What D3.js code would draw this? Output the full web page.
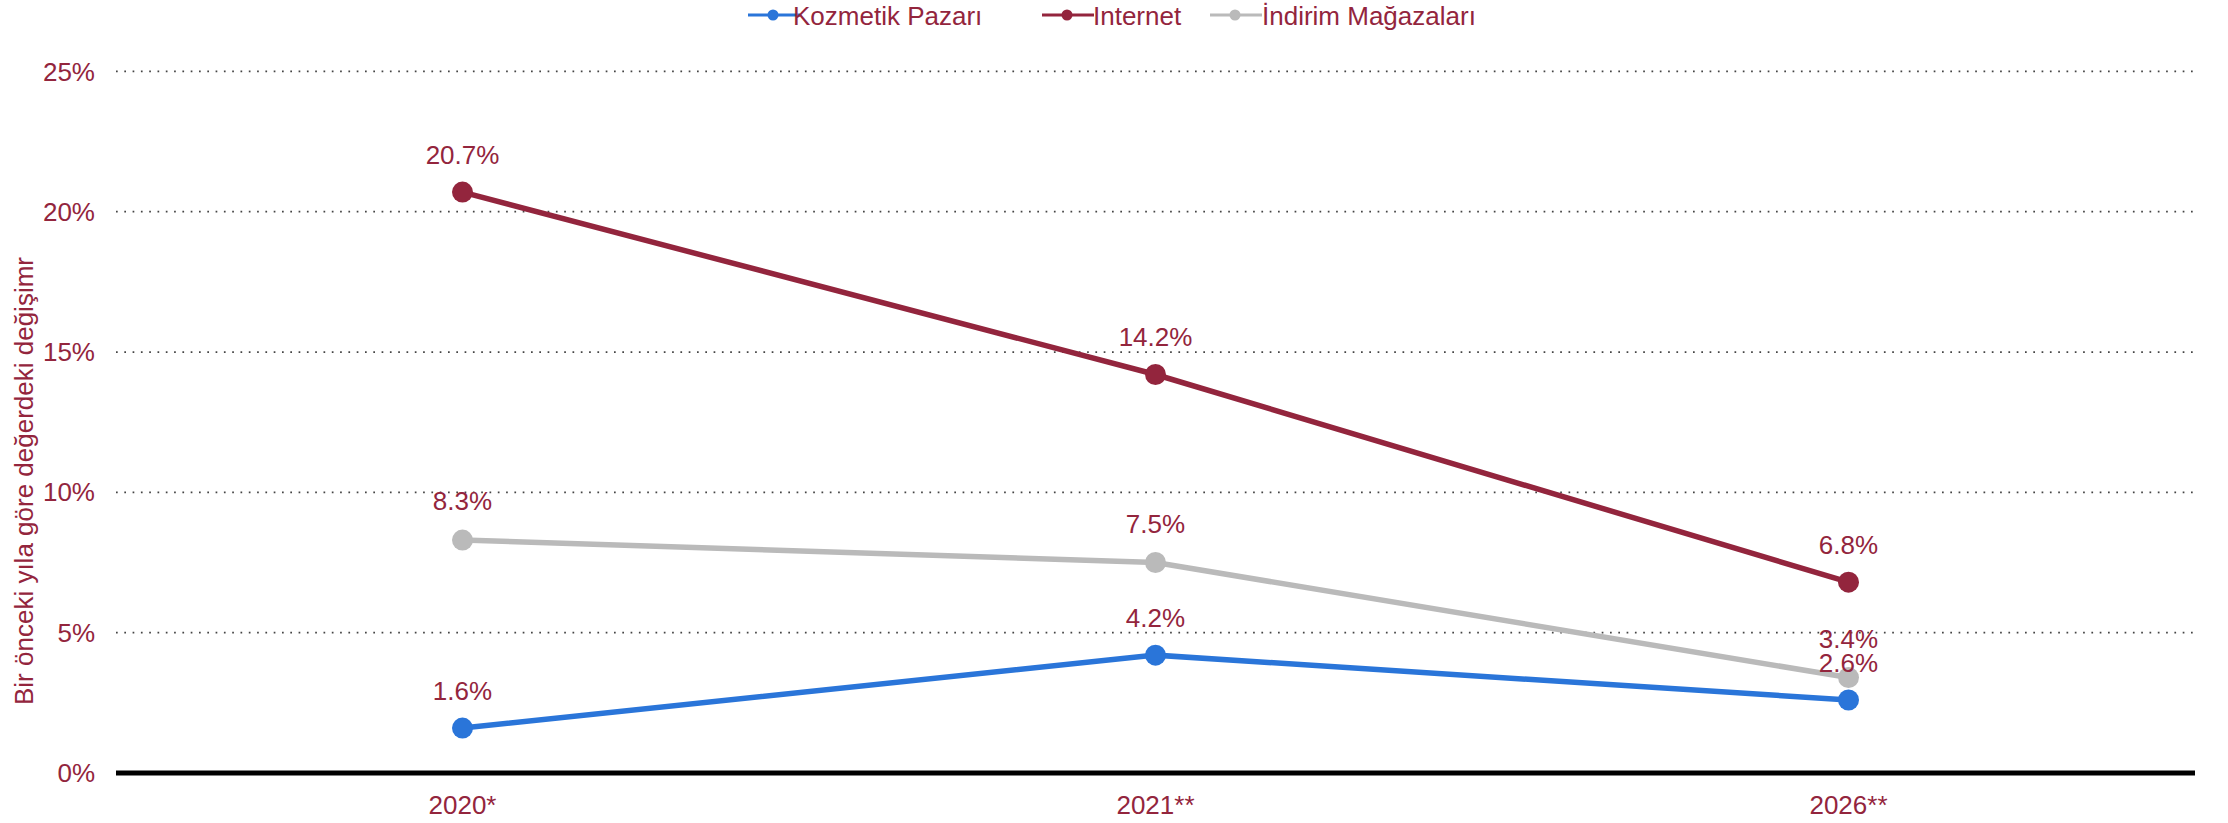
<!DOCTYPE html>
<html lang="tr">
<head>
    <meta charset="UTF-8">
    <title>Kozmetik Pazarı</title>
    <script src="https://d3js.org/d3.v7.min.js"></script>
    <style>
        body { margin: 0; background: #fff; font-family: "Liberation Sans", Arial, sans-serif; }
        svg text { fill: #93253d; }
    </style>
</head>
<body>
    <div id="chart"></div>
    <script>
        // data
        const years = ["2020*", "2021**", "2026**"];
        const kozmetik = [1.6, 4.2, 2.6];
        const internet = [20.7, 14.2, 6.8];
        const indirim = [8.3, 7.5, 3.4];
        const yTicks = [0, 5, 10, 15, 20, 25];

        const series = [
            { name: "Kozmetik Pazarı", values: kozmetik, color: "#2a75d9", width: 5.5, labelDy: 28 },
            { name: "Internet", values: internet, color: "#93253d", width: 5.5, labelDy: 28 },
            { name: "İndirim Mağazaları", values: indirim, color: "#bababa", width: 5.5, labelDy: 30 }
        ];

        const W = 2228, H = 823;
        const plotLeft = 116, plotRight = 2195, plotTop = 71.4, plotBottom = 773;

        const svg = d3.select("#chart").append("svg")
            .attr("width", W)
            .attr("height", H);

        const x = d3.scaleBand().domain(years).range([plotLeft, plotRight]);
        const y = d3.scaleLinear().domain([0, 25]).range([plotBottom, plotTop]);

        // grid
        svg.append("g")
            .selectAll("line")
            .data(yTicks.filter(d => d > 0))
            .enter().append("line")
            .attr("x1", plotLeft)
            .attr("x2", plotRight)
            .attr("y1", d => y(d))
            .attr("y2", d => y(d))
            .attr("stroke", "#444")
            .attr("stroke-width", 1.7)
            .attr("stroke-dasharray", "1.7,6.6");

        // y tick labels
        svg.append("g")
            .selectAll("text")
            .data(yTicks)
            .enter().append("text")
            .attr("x", 95)
            .attr("y", d => y(d))
            .attr("dy", "0.35em")
            .attr("text-anchor", "end")
            .style("font-size", "26px")
            .text(d => d + "%");

        // x axis
        svg.append("line")
            .attr("x1", plotLeft)
            .attr("x2", plotRight)
            .attr("y1", plotBottom)
            .attr("y2", plotBottom)
            .attr("stroke", "#000")
            .attr("stroke-width", 5);

        svg.append("g")
            .selectAll("text")
            .data(years)
            .enter().append("text")
            .attr("x", d => x(d) + x.bandwidth() / 2)
            .attr("y", 814)
            .attr("text-anchor", "middle")
            .style("font-size", "26px")
            .text(d => d);

        // y title
        svg.append("text")
            .attr("transform", "translate(33,481) rotate(-90)")
            .attr("text-anchor", "middle")
            .style("font-size", "26px")
            .text("Bir önceki yıla göre değerdeki değişimr");

        const line = d3.line()
            .x((d, i) => x(years[i]) + x.bandwidth() / 2)
            .y(d => y(d));

        // lines, grey first, then blue, red on top
        const order = [series[2], series[0], series[1]];
        order.forEach(s => {
            svg.append("path")
                .datum(s.values)
                .attr("fill", "none")
                .attr("stroke", s.color)
                .attr("stroke-width", s.width)
                .attr("d", line);

            svg.append("g")
                .selectAll("circle")
                .data(s.values)
                .enter().append("circle")
                .attr("cx", (d, i) => x(years[i]) + x.bandwidth() / 2)
                .attr("cy", d => y(d))
                .attr("r", 10.5)
                .attr("fill", s.color);
        });

        // value labels
        series.forEach(s => {
            svg.append("g")
                .selectAll("text")
                .data(s.values)
                .enter().append("text")
                .attr("x", (d, i) => x(years[i]) + x.bandwidth() / 2)
                .attr("y", d => y(d) - s.labelDy)
                .attr("text-anchor", "middle")
                .style("font-size", "26px")
                .text(d => d.toFixed(1) + "%");
        });

        // legend
        const legendX = [748, 1042, 1210];
        const legendTextX = [45, 51, 52];
        const legend = svg.append("g");
        series.forEach((s, i) => {
            const g = legend.append("g").attr("transform", "translate(" + legendX[i] + ",15)");
            g.append("line")
                .attr("x1", 0).attr("x2", 52)
                .attr("stroke", s.color)
                .attr("stroke-width", 3);
            g.append("circle")
                .attr("cx", 25)
                .attr("r", 5.5)
                .attr("fill", s.color);
            g.append("text")
                .attr("x", legendTextX[i])
                .attr("y", 10)
                .style("font-size", "26px")
                .text(s.name);
        });
    </script>
</body>
</html>
